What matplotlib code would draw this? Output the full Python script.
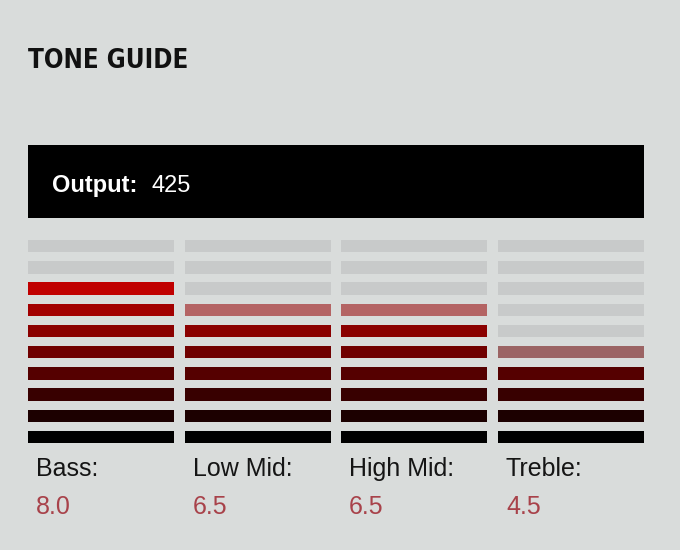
import matplotlib
matplotlib.use("Agg")
import matplotlib.pyplot as plt

bands = ["Bass:", "Low Mid:", "High Mid:", "Treble:"]
levels = [8.0, 6.5, 6.5, 4.5]
value_labels = ["8.0", "6.5", "6.5", "4.5"]
output_value = "425"
n_seg = 10
# fill colour of each segment, bottom to top
seg_colors = ['#000000', '#1c0000', '#380000', '#550000', '#700000',
              '#8a0000', '#a20000', '#c00000', '#d80000', '#f00000']

BG = '#d9dcdb'
EMPTY = '#c8caca'
VALCOL = '#a8424a'

fig = plt.figure(figsize=(6.8, 5.5), dpi=100)
fig.patch.set_facecolor(BG)
ax = fig.add_axes([0, 0, 1, 1])
ax.set_xlim(0, 680)
ax.set_ylim(550, 0)
ax.axis('off')

ax.text(28, 68, "TONE GUIDE", fontsize=18.5, fontweight='bold', fontstretch='condensed',
        family='DejaVu Sans', color='#111111', va='baseline')

# black output box
ax.barh(181.5, 616, left=28, height=73, color='black')
ax.text(52, 192, "Output:", fontsize=17, fontweight='bold', color='white',
        family=['Liberation Sans', 'DejaVu Sans'], va='baseline')
ax.text(152, 192, output_value, fontsize=17, color='white',
        family=['Liberation Sans', 'DejaVu Sans'], va='baseline')

col_left = [28, 185, 341, 498]
col_w = 146
seg_h = 12.5
y_bottom = 437
pitch = 21.2

for i, (name, lvl, vlab) in enumerate(zip(bands, levels, value_labels)):
    x0 = col_left[i]
    for s in range(n_seg):
        yc = y_bottom - s * pitch
        if s + 1 <= lvl:
            ax.barh(yc, col_w, left=x0, height=seg_h, color=seg_colors[s])
        else:
            ax.barh(yc, col_w, left=x0, height=seg_h, color=EMPTY)
            if s < lvl:
                # half step: faded segment
                ax.barh(yc, col_w, left=x0, height=seg_h, color=seg_colors[s], alpha=0.5)
    ax.text(x0 + 8, 476, name, fontsize=18, color='#151515',
            family=['Liberation Sans', 'DejaVu Sans'], va='baseline')
    ax.text(x0 + 8, 514, vlab, fontsize=18, color=VALCOL,
            family=['Liberation Sans', 'DejaVu Sans'], va='baseline')

fig.savefig("out.png", dpi=100, facecolor=BG)
